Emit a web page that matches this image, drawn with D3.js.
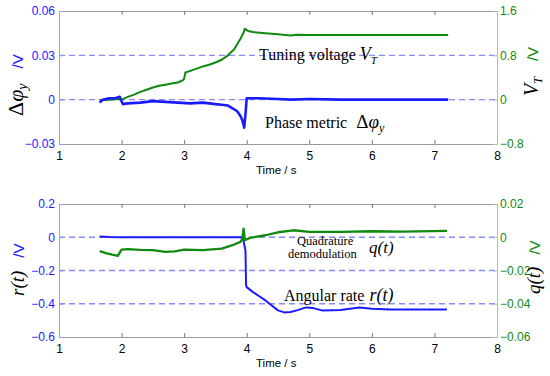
<!DOCTYPE html>
<html>
  <head>
    <meta charset="utf-8">
    <title>Phase metric and tuning voltage</title>
    <script src="https://d3js.org/d3.v7.min.js"></script>
    <style>
      body { margin: 0; background: #fff; }
      svg { display: block; }
      .tick text { font-family: Arial, "Liberation Sans", sans-serif; font-size: 12px; }
    </style>
  </head>
  <body>
    <div id="chart"></div>
    <script>
      // ---- data ----
      // top panel: tuning voltage V_T (right axis, V)
      var tVT = [1.65, 1.8, 1.95, 2.0, 2.1, 2.2, 2.3, 2.4, 2.5, 2.6, 2.7, 2.8, 2.9, 2.98, 3.0, 3.02, 3.1, 3.2, 3.3, 3.4, 3.5, 3.6, 3.7, 3.8, 3.9, 3.95, 3.97, 4.02, 4.1, 4.3, 4.5, 4.7, 4.8, 5.0, 6.0, 7.22];
      var vT  = [-0.01, 0.0, 0.01, 0.0, 0.05, 0.09, 0.14, 0.18, 0.22, 0.25, 0.27, 0.29, 0.31, 0.35, 0.38, 0.49, 0.52, 0.56, 0.6, 0.63, 0.67, 0.72, 0.8, 0.91, 1.1, 1.21, 1.28, 1.24, 1.22, 1.2, 1.18, 1.16, 1.17, 1.165, 1.165, 1.165];
      // top panel: phase metric dphi_y (left axis, V)
      var tPhi = [1.65, 1.7, 1.8, 1.9, 1.97, 2.0, 2.02, 2.1, 2.3, 2.5, 2.7, 2.9, 3.1, 3.3, 3.5, 3.6, 3.7, 3.8, 3.85, 3.9, 3.93, 3.95, 3.96, 3.98, 4.0, 4.2, 4.5, 4.7, 5.0, 5.5, 6.0, 6.5, 7.0, 7.22];
      var phi  = [-0.002, 0.0, 0.001, 0.001, 0.002, -0.001, -0.003, -0.0025, -0.002, -0.001, -0.0015, -0.002, -0.0025, -0.002, -0.003, -0.0034, -0.004, -0.0065, -0.008, -0.011, -0.014, -0.017, -0.019, -0.01, 0.001, 0.001, 0.0005, 0.0, 0.0005, 0.0, 0.0, 0.0, 0.0, 0.0];
      // bottom panel: angular rate r(t) (left axis, V)
      var tR = [1.65, 1.8, 2.0, 2.5, 3.0, 3.5, 3.9, 3.94, 3.98, 3.99, 4.0, 4.1, 4.2, 4.3, 4.4, 4.5, 4.6, 4.7, 4.8, 4.95, 5.05, 5.2, 5.5, 5.8, 6.0, 6.3, 6.6, 7.0, 7.2];
      var rt = [0.005, 0.002, 0.0, 0.0, 0.0, 0.0, 0.0, -0.005, -0.08, -0.29, -0.3, -0.33, -0.355, -0.38, -0.41, -0.44, -0.452, -0.45, -0.44, -0.422, -0.425, -0.44, -0.437, -0.422, -0.43, -0.435, -0.435, -0.435, -0.435];
      // bottom panel: quadrature demodulation q(t) (right axis, V)
      var tQ = [1.65, 1.75, 1.85, 1.94, 2.0, 2.1, 2.3, 2.5, 2.7, 2.85, 3.0, 3.3, 3.6, 3.8, 3.9, 3.93, 3.95, 3.97, 4.05, 4.3, 4.5, 4.75, 5.0, 5.5, 6.0, 6.5, 7.2];
      var qt = [-0.0084, -0.0095, -0.0105, -0.0112, -0.0074, -0.0072, -0.0076, -0.0078, -0.0088, -0.0085, -0.0074, -0.0078, -0.0068, -0.0044, -0.0028, -0.001, 0.0052, -0.0018, -0.0004, 0.0012, 0.003, 0.0042, 0.0032, 0.0032, 0.0036, 0.0034, 0.0038];

      var xTicks = [1, 2, 3, 4, 5, 6, 7, 8];
      var topLeftTicks = [-0.03, 0, 0.03, 0.06];
      var topRightTicks = [-0.8, 0, 0.8, 1.6];
      var botLeftTicks = [-0.6, -0.4, -0.2, 0, 0.2];
      var botRightTicks = [-0.06, -0.04, -0.02, 0, 0.02];
      var topDashes = [0, 0.03];
      var botDashes = [0, -0.2, -0.4];

      var width = 550, height = 376;
      var blue = "#1a1aff", green = "#0f8a0f";
      var sansFont = "Arial, 'Liberation Sans', sans-serif";
      var serifFont = "'Times New Roman', 'Liberation Serif', serif";

      var svg = d3.select("#chart").append("svg")
        .attr("width", width)
        .attr("height", height);

      var x = d3.scaleLinear().domain([1, 8]).range([59, 497]);

      // draws one plotyy-style panel
      function panel(opt) {
        var yL = d3.scaleLinear().domain(opt.leftDomain).range([opt.bottom, opt.top]);
        var yR = d3.scaleLinear().domain(opt.rightDomain).range([opt.bottom, opt.top]);
        var g = svg.append("g");

        // dashed reference lines
        g.selectAll(".dash")
          .data(opt.dashes)
          .enter().append("line")
            .attr("x1", x(1)).attr("x2", x(8))
            .attr("y1", function(d) { return yL(d); })
            .attr("y2", function(d) { return yL(d); })
            .attr("stroke", "#8a8aff")
            .attr("stroke-width", 1.3)
            .attr("stroke-dasharray", "6,4");

        // frame: top and bottom
        g.append("g")
          .attr("transform", "translate(0," + opt.bottom + ")")
          .call(d3.axisBottom(x).tickValues(xTicks).tickSize(-4).tickSizeOuter(0).tickPadding(7).tickFormat(d3.format("d")))
          .call(function(a) {
            a.select(".domain").attr("stroke", "#9a9a9a");
            a.selectAll(".tick line").attr("stroke", "#777");
            a.selectAll(".tick text").attr("fill", "#000");
          });
        g.append("g")
          .attr("transform", "translate(0," + opt.top + ")")
          .call(d3.axisTop(x).tickValues(xTicks).tickSize(-4).tickSizeOuter(0).tickFormat(""))
          .call(function(a) {
            a.select(".domain").attr("stroke", "#9a9a9a");
            a.selectAll(".tick line").attr("stroke", "#777");
          });

        // left axis (blue)
        g.append("g")
          .attr("transform", "translate(" + x(1) + ",0)")
          .call(d3.axisLeft(yL).tickValues(opt.leftTicks).tickSize(-4).tickSizeOuter(0).tickPadding(4).tickFormat(opt.leftFormat))
          .call(function(a) {
            a.select(".domain").attr("stroke", "#9c9cff");
            a.selectAll(".tick line").attr("stroke", "#9c9cff");
            a.selectAll(".tick text").attr("fill", blue);
          });

        // right axis (green)
        g.append("g")
          .attr("transform", "translate(" + x(8) + ",0)")
          .call(d3.axisRight(yR).tickValues(opt.rightTicks).tickSize(-4).tickSizeOuter(0).tickPadding(3).tickFormat(opt.rightFormat))
          .call(function(a) {
            a.select(".domain").attr("stroke", "#9ad09a");
            a.selectAll(".tick line").attr("stroke", "#9ad09a");
            a.selectAll(".tick text").attr("fill", green);
          });

        // series
        opt.series.forEach(function(s) {
          var y = s.axis == "left" ? yL : yR;
          g.append("path")
            .datum(d3.zip(s.t, s.v))
            .attr("fill", "none")
            .attr("stroke", s.color)
            .attr("stroke-width", s.w)
            .attr("stroke-linejoin", "round")
            .attr("d", d3.line()
              .x(function(d) { return x(d[0]); })
              .y(function(d) { return y(d[1]); }));
        });

        // x axis title
        g.append("text")
          .attr("x", 256)
          .attr("y", opt.bottom + 30)
          .style("font-family", sansFont)
          .style("font-size", "11.5px")
          .text("Time / s");
        return g;
      }

      // ---- top panel ----
      panel({
        top: 11, bottom: 144,
        leftDomain: [-0.03, 0.06], rightDomain: [-0.8, 1.6],
        leftTicks: topLeftTicks, rightTicks: topRightTicks,
        leftFormat: function(d) { return d === 0 ? "0" : d3.format(".2f")(d); },
        rightFormat: function(d) { return d === 0 ? "0" : d3.format(".1f")(d); },
        dashes: topDashes,
        series: [
          { t: tVT, v: vT, axis: "right", color: green, w: 2 },
          { t: tPhi, v: phi, axis: "left", color: blue, w: 2.6 }
        ]
      });

      // ---- bottom panel ----
      panel({
        top: 204, bottom: 337,
        leftDomain: [-0.6, 0.2], rightDomain: [-0.06, 0.02],
        leftTicks: botLeftTicks, rightTicks: botRightTicks,
        leftFormat: function(d) { return d === 0 ? "0" : d3.format(".1f")(d); },
        rightFormat: function(d) { return d === 0 ? "0" : d3.format(".2f")(d); },
        dashes: botDashes,
        series: [
          { t: tR, v: rt, axis: "left", color: blue, w: 2 },
          { t: tQ, v: qt, axis: "right", color: green, w: 2.3 }
        ]
      });

      // ---- y axis labels (rotated) ----
      function yLabel(tx, ty, build) {
        var t = svg.append("text")
          .attr("transform", "translate(" + tx + "," + ty + ") rotate(-90)");
        build(t);
      }

      yLabel(23, 116, function(t) {
        t.append("tspan").style("font-family", serifFont).style("font-size", "22px").text("Δ");
        t.append("tspan").style("font-family", serifFont).style("font-size", "22px").style("font-style", "italic").text("φ");
        t.append("tspan").style("font-family", serifFont).style("font-size", "14px").style("font-style", "italic").attr("dy", 4).text("y");
        t.append("tspan").style("font-family", sansFont).style("font-size", "15px").attr("fill", blue).attr("dy", -4).attr("dx", 15).text("/V");
      });
      yLabel(538, 96, function(t) {
        t.append("tspan").style("font-family", serifFont).style("font-size", "20px").style("font-style", "italic").text("V");
        t.append("tspan").style("font-family", serifFont).style("font-size", "12px").style("font-style", "italic").attr("dy", 4).text("T");
        t.append("tspan").style("font-family", sansFont).style("font-size", "15px").attr("fill", green).attr("dy", -4).attr("dx", 16).text("/V");
      });
      yLabel(24, 296, function(t) {
        t.append("tspan").style("font-family", serifFont).style("font-size", "19px").style("font-style", "italic").text("r(t)");
        t.append("tspan").style("font-family", sansFont).style("font-size", "15px").attr("fill", blue).attr("dx", 13).text("/V");
      });
      yLabel(540, 294, function(t) {
        t.append("tspan").style("font-family", serifFont).style("font-size", "19px").style("font-style", "italic").text("q(t)");
        t.append("tspan").style("font-family", sansFont).style("font-size", "15px").attr("fill", green).attr("dx", 12).text("/V");
      });

      // ---- annotations ----
      var a1 = svg.append("text").attr("x", 259).attr("y", 60).style("font-family", serifFont).style("font-size", "16px");
      a1.append("tspan").text("Tuning voltage ");
      a1.append("tspan").style("font-style", "italic").style("font-size", "18px").text("V");
      a1.append("tspan").style("font-style", "italic").style("font-size", "11px").attr("dy", 4).text("T");

      var a2 = svg.append("text").attr("x", 265).attr("y", 128).style("font-family", serifFont).style("font-size", "16px");
      a2.append("tspan").text("Phase metric");
      a2.append("tspan").attr("dx", 9).style("font-size", "19px").text("Δ");
      a2.append("tspan").style("font-style", "italic").style("font-size", "19px").text("φ");
      a2.append("tspan").style("font-style", "italic").style("font-size", "12px").attr("dy", 4).text("y");

      svg.append("text").attr("x", 297).attr("y", 245).style("font-family", serifFont).style("font-size", "12.5px").text("Quadrature");
      svg.append("text").attr("x", 288).attr("y", 258).style("font-family", serifFont).style("font-size", "12.5px").text("demodulation");
      svg.append("text").attr("x", 369).attr("y", 253).style("font-family", serifFont).style("font-size", "17px").style("font-style", "italic").text("q(t)");

      var a3 = svg.append("text").attr("x", 284).attr("y", 301).style("font-family", serifFont).style("font-size", "16px");
      a3.append("tspan").text("Angular rate");
      a3.append("tspan").attr("dx", 5).style("font-style", "italic").style("font-size", "18px").text("r(t)");
    </script>
  </body>
</html>
